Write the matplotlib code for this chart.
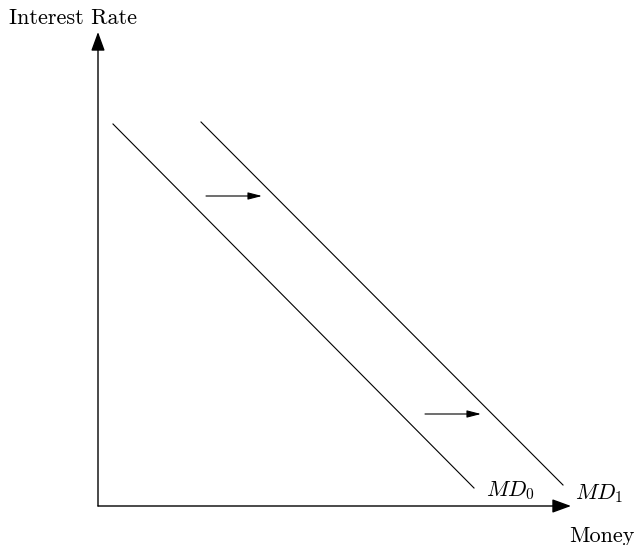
import matplotlib
matplotlib.use("Agg")
import matplotlib.pyplot as plt

plt.rcParams['mathtext.fontset'] = 'cm'

# curve endpoints (x, y) measured from origin
md0_x = [15, 376]
md0_y = [382, 18]
md1_x = [103, 465]
md1_y = [384, 21]

# shift arrows: start and end
shift_start_x = [108, 327]
shift_end_x = [164, 383]
shift_y = [310, 92]

curve_labels = [r'$MD_0$', r'$MD_1$']
label_x = [388, 477]
label_y = [15, 12]

x_axis_len = 473
y_axis_len = 474

fig = plt.figure(figsize=(6.38, 5.45), dpi=100)
ax = fig.add_axes([0, 0, 1, 1])
ax.set_xlim(-98, 540)
ax.set_ylim(-39, 506)
ax.axis('off')

ax.plot(md0_x, md0_y, color='black', lw=0.8)
ax.plot(md1_x, md1_y, color='black', lw=0.8)

axis_arrow = dict(arrowstyle='-|>,head_length=1.15,head_width=0.42', color='black',
                  lw=1.0, shrinkA=0, shrinkB=0)
ax.annotate('', xy=(x_axis_len, 0), xytext=(0, 0), arrowprops=axis_arrow)
ax.annotate('', xy=(0, y_axis_len), xytext=(0, 0), arrowprops=axis_arrow)

shift_arrow = dict(arrowstyle='-|>,head_length=0.85,head_width=0.22', color='black',
                   lw=0.8, shrinkA=0, shrinkB=0)
for x0, x1, y in zip(shift_start_x, shift_end_x, shift_y):
    ax.annotate('', xy=(x1, y), xytext=(x0, y), arrowprops=shift_arrow)

for t, x, y in zip(curve_labels, label_x, label_y):
    ax.text(x, y, t, fontsize=16, ha='left', va='center')

ax.text(-25, 488, 'Interest Rate', family='cmr10', fontsize=16, ha='center', va='center')
ax.text(504, -30, 'Money', family='cmr10', fontsize=16, ha='center', va='center')

fig.savefig('out.png', dpi=100)
